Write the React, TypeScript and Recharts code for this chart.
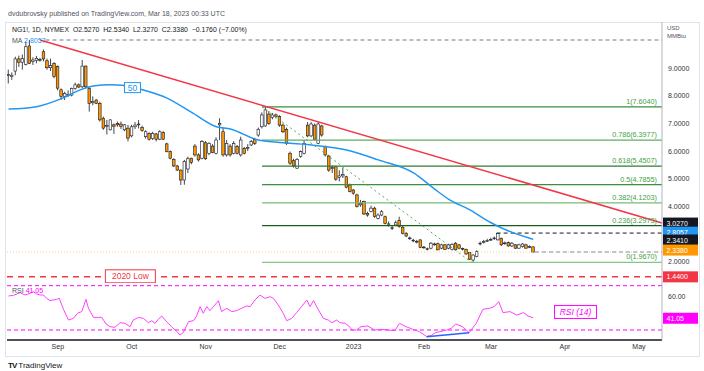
import React from "react";
import {
  ComposedChart,
  Bar,
  Line,
  XAxis,
  YAxis,
  ReferenceLine,
  ReferenceDot,
} from "recharts";

// daily candles, NG1! Aug 12 2022 -> Mar 17 2023
const opens = [
  8.77, 8.7, 8.9, 9.34, 9.22, 9.14, 9.81, 9.25, 9.28, 9.32,
  9.6, 9.27, 9.02, 9.18, 9.06, 8.22, 7.98, 8.05, 8.03, 8.27,
  8.4, 8.33, 9.08, 8.27, 7.75, 7.85, 7.73, 7.19, 6.9, 6.77,
  6.95, 7.0, 6.98, 6.77, 6.83, 6.55, 6.88, 6.95, 6.86, 6.52,
  6.64, 6.45, 6.62, 6.43, 6.67, 6.26, 5.98, 5.7, 5.46, 5.31,
  4.95, 5.35, 5.74, 6.18, 5.86, 5.74, 6.3, 5.92, 6.18, 5.92,
  6.95, 6.7, 5.86, 6.18, 5.92, 6.16, 5.86, 6.1, 6.1, 6.22,
  6.42, 6.58, 6.88, 6.91, 7.34, 7.22, 7.31, 7.25, 6.94, 6.79,
  5.92, 5.65, 5.38, 5.8, 5.92, 6.94, 6.55, 6.94, 6.28, 6.91,
  6.16, 5.82, 5.36, 5.43, 5.05, 5.1, 5.07, 4.77, 4.59, 4.41,
  4.05, 4.17, 3.74, 3.81, 3.93, 3.56, 3.68, 3.62, 3.34, 3.22,
  3.32, 3.48, 3.24, 3.02, 2.84, 2.77, 2.73, 2.78, 2.52, 2.46,
  2.48, 2.62, 2.64, 2.48, 2.6, 2.48, 2.44, 2.66, 2.6, 2.47,
  2.44, 2.32, 2.05, 2.18, 2.64, 2.7, 2.74, 2.79, 2.83, 2.78,
  2.84, 2.65, 2.68, 2.56, 2.6, 2.48, 2.54, 2.6, 2.53, 2.527,
];
const highs = [
  8.95, 8.85, 9.42, 9.46, 9.5, 9.97, 10.03, 9.4, 9.45, 9.38,
  9.68, 9.35, 9.35, 9.22, 9.1, 8.27, 8.15, 8.2, 8.3, 8.48,
  8.45, 9.3, 9.1, 8.33, 7.98, 7.88, 7.79, 7.25, 7.13, 7.15,
  7.0, 7.07, 7.07, 6.98, 6.95, 6.95, 7.05, 7.12, 6.92, 6.75,
  6.68, 6.7, 6.66, 6.75, 6.72, 6.3, 6.02, 5.74, 5.5, 5.33,
  5.68, 5.8, 5.76, 6.25, 5.92, 6.4, 6.36, 6.32, 6.25, 6.5,
  7.19, 6.85, 6.4, 6.25, 6.36, 6.22, 6.52, 6.15, 6.25, 6.4,
  6.48, 6.85, 7.4, 7.604, 7.45, 7.38, 7.36, 7.3, 7.0, 6.85,
  5.98, 5.72, 5.75, 6.02, 6.4, 7.05, 7.05, 7.0, 7.05, 6.95,
  6.2, 5.86, 5.48, 5.46, 5.3, 5.4, 5.1, 4.82, 4.62, 4.45,
  4.23, 4.2, 3.8, 4.02, 3.98, 3.74, 3.86, 3.66, 3.45, 3.3,
  3.48, 3.62, 3.28, 3.06, 2.9, 2.82, 2.78, 2.8, 2.56, 2.5,
  2.7, 2.68, 2.68, 2.64, 2.63, 2.64, 2.66, 2.7, 2.63, 2.5,
  2.46, 2.34, 2.26, 2.4, 2.72, 2.78, 2.82, 2.86, 2.9, 3.03,
  2.86, 2.72, 2.72, 2.7, 2.63, 2.64, 2.66, 2.64, 2.58, 2.534,
];
const lows = [
  8.45, 8.58, 8.75, 9.05, 8.95, 9.1, 9.15, 9.12, 9.18, 9.24,
  9.25, 8.95, 8.9, 8.64, 8.2, 7.85, 7.85, 7.96, 7.98, 8.22,
  8.28, 8.28, 8.28, 7.43, 7.66, 7.7, 7.07, 6.77, 6.6, 6.75,
  6.62, 6.88, 6.8, 6.72, 6.35, 6.5, 6.8, 6.82, 6.7, 6.45,
  6.38, 6.4, 6.35, 6.4, 6.4, 5.95, 5.7, 5.42, 5.28, 4.77,
  4.78, 5.2, 5.52, 5.8, 5.62, 5.7, 5.68, 5.85, 5.92, 5.88,
  6.4, 5.8, 5.8, 5.8, 5.88, 5.88, 5.8, 5.88, 6.0, 6.18,
  6.22, 6.52, 6.82, 6.88, 6.95, 7.15, 7.18, 6.88, 6.65, 6.22,
  5.5, 5.4, 5.35, 5.76, 5.88, 6.5, 6.5, 6.4, 6.25, 6.52,
  5.8, 5.25, 5.2, 4.92, 4.9, 5.02, 4.65, 4.5, 4.42, 3.95,
  3.98, 3.68, 3.62, 3.78, 3.58, 3.52, 3.64, 3.34, 3.26, 3.14,
  3.28, 3.22, 2.98, 2.88, 2.78, 2.7, 2.65, 2.48, 2.46, 2.4,
  2.44, 2.57, 2.4, 2.44, 2.42, 2.44, 2.4, 2.4, 2.44, 2.4,
  2.24, 2.05, 1.967, 2.15, 2.58, 2.65, 2.7, 2.74, 2.78, 2.76,
  2.56, 2.6, 2.53, 2.52, 2.45, 2.46, 2.5, 2.46, 2.48, 2.327,
];
const closes = [
  8.74, 8.75, 9.34, 9.22, 9.35, 9.78, 9.18, 9.3, 9.36, 9.3,
  9.34, 9.02, 9.1, 8.7, 8.28, 7.98, 8.09, 8.03, 8.27, 8.4,
  8.32, 9.08, 8.33, 7.73, 7.8, 7.73, 7.13, 6.83, 6.93, 7.13,
  6.9, 6.95, 6.9, 6.95, 6.47, 6.88, 6.94, 6.98, 6.74, 6.7,
  6.43, 6.64, 6.43, 6.7, 6.43, 5.98, 5.74, 5.46, 5.31, 4.95,
  5.62, 5.72, 5.58, 5.86, 5.68, 6.34, 5.72, 6.28, 5.95, 6.4,
  7.0, 5.86, 6.28, 5.86, 6.28, 5.92, 6.4, 5.92, 6.13, 6.34,
  6.28, 6.79, 7.31, 7.49, 7.0, 7.31, 7.25, 6.94, 6.7, 6.28,
  5.56, 5.46, 5.7, 5.98, 6.28, 6.55, 6.98, 6.43, 6.98, 6.58,
  5.86, 5.31, 5.4, 4.98, 5.1, 5.15, 4.69, 4.53, 4.47, 3.99,
  4.1, 3.72, 3.68, 3.93, 3.63, 3.68, 3.8, 3.38, 3.36, 3.2,
  3.4, 3.26, 3.02, 2.92, 2.85, 2.75, 2.7, 2.51, 2.5, 2.44,
  2.66, 2.63, 2.42, 2.6, 2.44, 2.6, 2.62, 2.42, 2.48, 2.45,
  2.27, 2.08, 2.23, 2.36, 2.66, 2.72, 2.76, 2.8, 2.85, 3.02,
  2.6, 2.67, 2.56, 2.66, 2.48, 2.6, 2.63, 2.48, 2.54, 2.338,
];

// 50-day MA [bar, value]
const maPoints = [
  [0, 7.52], [8, 7.61], [15, 7.9], [20, 8.2], [24, 8.36], [29, 8.4],
  [33, 8.38], [38, 8.22], [45, 7.92], [52, 7.4], [59, 6.88], [63, 6.8],
  [71, 6.4], [86, 6.22], [96, 6.04], [105, 5.68], [115, 5.21],
  [121, 4.62], [125, 4.25], [131, 3.87], [137, 3.4], [148, 2.84],
  [149, 2.8057],
];

// RSI(14) [bar, value]
const rsiPoints = [
  [0, 60.7], [1.4, 61.3], [3.3, 63.7], [4.7, 61.6], [6.1, 63.1], [7.1, 64.6],
  [8, 62.5], [9, 61.6], [9.9, 61.6], [10.8, 58.6], [11.8, 56.5], [12.7, 57.1],
  [13.7, 57.7], [14.4, 58.6], [15.6, 48.7], [17, 39], [18.4, 40.5],
  [19.6, 45.1], [20.8, 46.6], [22, 57.7], [22.7, 49.6], [24.1, 41.4],
  [25.5, 41.4], [26.5, 41.4], [27.7, 35.4], [28.8, 33], [30.2, 32.4],
  [31.7, 36.6], [33.1, 36], [34.5, 33], [35.4, 39], [36.9, 41.4],
  [38.3, 40.5], [39.7, 36.6], [40.7, 38.4], [41.6, 36], [42.5, 39.6],
  [43.5, 42.6], [44.9, 37.5], [46.3, 33], [47.8, 28.5], [48.7, 25.5],
  [49.6, 27.6], [51.1, 37.5], [52.5, 38.4], [53.4, 42.6], [54.4, 51.1],
  [55.3, 45.1], [56.3, 51.1], [57.2, 47.5], [58.2, 51.1], [59.6, 56.5],
  [60.5, 46.6], [62, 49.6], [63.4, 46.6], [64.8, 47.5], [66.2, 49.6],
  [67.6, 51.7], [68.6, 51.1], [70, 57.1], [71.4, 61.6], [72.8, 58.6],
  [74.3, 60.1], [75.2, 58.6], [76.6, 52.6], [78, 45.1], [79, 38.4],
  [80.4, 40.5], [81.8, 45.7], [83.2, 51.1], [84.7, 57.1], [85.6, 51.1],
  [86.6, 56.5], [88, 48.1], [89.4, 40.5], [90.8, 39], [91.8, 36.6],
  [93.2, 39], [94.1, 36.6], [95.6, 36], [97, 32.4], [97.5, 30],
  [98.8, 30], [100.1, 33], [102, 33.6], [104, 30], [105.9, 30.6],
  [107.8, 30], [109.7, 29.4], [111, 36], [112.9, 33], [114.8, 30.6],
  [116.7, 28.5], [118.7, 24.2], [120, 25], [121.2, 27.6], [122.5, 28.5],
  [124.4, 30], [125.7, 31.5], [127, 35.4], [128.9, 33], [130.8, 27.6],
  [132.8, 36], [134.7, 48.7], [136.6, 49.6], [137.9, 51.1], [139.2, 55.6],
  [140.4, 45.7], [142.4, 46.6], [144.3, 43.5], [146.2, 45.7], [147.5, 42.6],
  [149, 41.05],
];

const monthTicks = [14, 35, 56, 77, 98, 118, 137, 158, 179];
const monthLabels = ["Sep", "Oct", "Nov", "Dec", "2023", "Feb", "Mar", "Apr", "May"];

const priceTicks = [2, 4, 5, 6, 7, 8, 9];

const fibRatios = ["1", "0.786", "0.618", "0.5", "0.382", "0.236", "0"];
const fibPrices = [7.604, 6.3977, 5.4507, 4.7855, 4.1203, 3.2973, 1.967];
const fibColors = ["#388e3c", "#5fae63", "#2e7d32", "#388e3c", "#77bb7a", "#1b5e20", "#81c784"];

const tagPrices = [3.027, 2.8057, 2.341, 2.338, 1.44];
const tagColors = ["#131722", "#2196f3", "#131722", "#ff9800", "#f23645"];
const tagShift = [-10, -7, -12, -2, 0];

const X_MIN = -0.43;
const X_MAX = 185.55;
const FONT = "'Liberation Sans', Arial, sans-serif";
const AXIS_TXT = "#333";

const candles = opens.map((o, i) => ({ i, o, h: highs[i], l: lows[i], c: closes[i] }));
const maData = maPoints.map(([i, v]) => ({ i, v }));
const rsiData = rsiPoints.map(([i, v]) => ({ i, v }));

function Candle(props: any) {
  const { x, y, width, height, payload } = props;
  if (!payload) return null;
  const { o, h, l, c } = payload;
  const top = Math.min(y, y + height);
  const span = Math.abs(height);
  const py = (v: number) => top + ((h - v) / (h - l)) * span;
  const cx = x + width / 2;
  const bTop = py(Math.max(o, c));
  const bBot = py(Math.min(o, c));
  return (
    <g>
      <line x1={cx} x2={cx} y1={top} y2={top + span} stroke="#131722" strokeWidth={0.8} />
      <rect
        x={cx - 1.3}
        y={bTop}
        width={2.6}
        height={Math.max(0.8, bBot - bTop)}
        fill={c >= o ? "#ffffff" : "#ff9800"}
        stroke="#131722"
        strokeWidth={0.6}
      />
    </g>
  );
}

const tagShape = (text: string, color: string, dy: number) => (p: any) => (
  <g>
    <rect x={p.cx + 1} y={p.cy + dy - 5.5} width={35} height={11} fill={color} />
    <text x={p.cx + 4.5} y={p.cy + dy + 2.6} fill="#fff" fontSize={7} fontFamily={FONT}>
      {text}
    </text>
  </g>
);

const fibLabel = (text: string) => (p: any) => (
  <text x={p.cx - 5} y={p.cy - 3} textAnchor="end" fill="#43a047" fontSize={7.2} fontFamily={FONT}>
    {text}
  </text>
);

const boxLabel = (text: string, color: string, w: number, h: number, italic = false, size = 8) => (p: any) => (
  <g>
    <rect x={p.cx - w / 2} y={p.cy - h / 2} width={w} height={h} fill="#fff" stroke={color} strokeWidth={1} />
    <text
      x={p.cx}
      y={p.cy + size * 0.36}
      textAnchor="middle"
      fill={color}
      fontSize={size}
      fontStyle={italic ? "italic" : "normal"}
      fontFamily={FONT}
    >
      {text}
    </text>
  </g>
);

function Txt({ x, y, size = 7.2, color = "#131722", children, weight = 400 }: any) {
  return (
    <div
      style={{
        position: "absolute",
        left: x,
        top: y,
        fontSize: size,
        color,
        fontFamily: FONT,
        whiteSpace: "nowrap",
        lineHeight: 1,
        fontWeight: weight,
      }}
    >
      {children}
    </div>
  );
}

export default function App() {
  return (
    <div style={{ position: "absolute", left: 0, top: 0, width: 704, height: 371, background: "#fff", overflow: "hidden" }}>
      {/* frame */}
      <div style={{ position: "absolute", left: 5, top: 22, width: 693, height: 333, border: "1px solid #e0e3eb" }} />

      <div style={{ position: "absolute", left: 0, top: 22 }}>
        <ComposedChart width={704} height={261} data={candles} margin={{ top: 0, right: 0, bottom: 0, left: 7 }}>
          <XAxis dataKey="i" type="number" domain={[X_MIN, X_MAX]} allowDataOverflow hide />
          <YAxis
            orientation="right"
            width={42}
            domain={[1.217, 10.678]}
            allowDataOverflow
            ticks={priceTicks}
            tickFormatter={(v: number) => v.toFixed(4)}
            tick={{ fontSize: 7, fill: AXIS_TXT, fontFamily: FONT }}
            tickLine={false}
            tickSize={0}
            tickMargin={6}
            axisLine={{ stroke: "#b2b5be" }}
          />
          <ReferenceLine segment={[{ x: 10.5, y: 10.025 }, { x: X_MAX, y: 10.025 }]} stroke="#787b86" strokeDasharray="4 3" ifOverflow="visible" />
          <ReferenceLine y={2.338} stroke="#ffcc80" strokeDasharray="1 2" ifOverflow="visible" />
          <ReferenceLine segment={[{ x: 149.5, y: 2.338 }, { x: X_MAX, y: 2.338 }]} stroke="#c3c5cc" strokeWidth={2} strokeDasharray="4 3" ifOverflow="visible" />
          <ReferenceLine y={1.44} stroke="#f23645" strokeWidth={1.5} strokeDasharray="6 5" ifOverflow="visible" />
          {fibPrices.map((p, k) => (
            <ReferenceLine key={"f" + k} segment={[{ x: 72, y: p }, { x: X_MAX, y: p }]} stroke={fibColors[k]} strokeWidth={1.2} ifOverflow="visible" />
          ))}
          <ReferenceLine segment={[{ x: 72, y: 7.604 }, { x: 131.5, y: 1.967 }]} stroke="#4caf50" strokeDasharray="2 3" ifOverflow="visible" />
          <ReferenceLine segment={[{ x: 138.6, y: 3.027 }, { x: X_MAX, y: 3.027 }]} stroke="#131722" strokeDasharray="4 3" ifOverflow="visible" />
          <ReferenceLine segment={[{ x: 8.94, y: 10.025 }, { x: X_MAX, y: 3.395 }]} stroke="#f23645" strokeWidth={1.5} ifOverflow="visible" />
          <Line data={maData} dataKey="v" type="monotone" stroke="#2196f3" strokeWidth={1.5} dot={false} isAnimationActive={false} />
          <Bar dataKey={(d: any) => [d.l, d.h]} shape={Candle} barSize={3} isAnimationActive={false} />
          {fibPrices.map((p, k) => (
            <ReferenceDot key={"fl" + k} x={X_MAX} y={p} ifOverflow="visible" shape={fibLabel(`${fibRatios[k]}(${p.toFixed(4)})`)} />
          ))}
          <ReferenceDot x={35.2} y={8.3} ifOverflow="visible" shape={boxLabel("50", "#2196f3", 16, 10, false, 8.5)} />
          <ReferenceDot x={34.6} y={1.46} ifOverflow="visible" shape={boxLabel("2020 Low", "#f23645", 50, 13, false, 8.5)} />
          {tagPrices.map((p, k) => (
            <ReferenceDot key={"t" + k} x={X_MAX} y={p} ifOverflow="visible" shape={tagShape(p.toFixed(4), tagColors[k], tagShift[k])} />
          ))}
        </ComposedChart>
      </div>

      <div style={{ position: "absolute", left: 0, top: 283 }}>
        <ComposedChart width={704} height={73} data={rsiData} margin={{ top: 0, right: 0, bottom: 0, left: 7 }}>
          <XAxis
            dataKey="i"
            type="number"
            domain={[X_MIN, X_MAX]}
            allowDataOverflow
            ticks={monthTicks}
            interval={0}
            tickFormatter={(v: number) => monthLabels[monthTicks.indexOf(v)] ?? ""}
            tick={{ fontSize: 7, fill: AXIS_TXT, fontFamily: FONT }}
            tickLine={false}
            tickSize={0}
            tickMargin={4}
            height={16}
            axisLine={{ stroke: "#131722", strokeWidth: 1.5 }}
          />
          <YAxis
            orientation="right"
            width={42}
            domain={[20.97, 72.44]}
            allowDataOverflow
            ticks={[60]}
            tickFormatter={(v: number) => v.toFixed(2)}
            tick={{ fontSize: 7, fill: AXIS_TXT, fontFamily: FONT }}
            tickLine={false}
            tickSize={0}
            tickMargin={6}
            axisLine={{ stroke: "#b2b5be" }}
          />
          <ReferenceLine y={70} stroke="#ff00ff" strokeDasharray="4 3" />
          <ReferenceLine y={30} stroke="#ff00ff" strokeDasharray="4 3" />
          <Line dataKey="v" type="linear" stroke="#ff40ff" strokeWidth={1} dot={false} isAnimationActive={false} />
          <ReferenceLine segment={[{ x: 118.7, y: 23.9 }, { x: 130.8, y: 27.6 }]} stroke="#2962ff" strokeWidth={1.5} ifOverflow="visible" />
          <ReferenceDot x={161} y={46.3} ifOverflow="visible" shape={boxLabel("RSI (14)", "#ff00ff", 42, 13, true, 8.5)} />
          <ReferenceDot x={X_MAX} y={41.05} ifOverflow="visible" shape={tagShape("41.05", "#ff00ff", 0.5)} />
        </ComposedChart>
      </div>

      {/* texts */}
      <Txt x={8} y={10} size={7} color="#50535e">dvdubrovsky published on TradingView.com, Mar 18, 2023 00:33 UTC</Txt>
      <Txt x={12} y={27} size={6.9}>
        NG1!, 1D, NYMEX&nbsp; O2.5270&nbsp; H2.5340&nbsp; L2.3270&nbsp; C2.3380&nbsp; −0.1760 (−7.00%)
      </Txt>
      <Txt x={12} y={37} size={7} color="#50535e">
        MA <span style={{ color: "#2196f3" }}>2.8057</span>
      </Txt>
      <Txt x={667} y={25} size={6} color="#50535e">USD</Txt>
      <Txt x={667} y={33} size={6} color="#50535e">MMBtu</Txt>
      <Txt x={12} y={287} size={7} color="#50535e">
        RSI <span style={{ color: "#ff00ff" }}>41.05</span>
      </Txt>
      <Txt x={8} y={362} size={8} color="#131722">
        <span style={{ fontWeight: 900, letterSpacing: -1 }}>TV</span> TradingView
      </Txt>
    </div>
  );
}
